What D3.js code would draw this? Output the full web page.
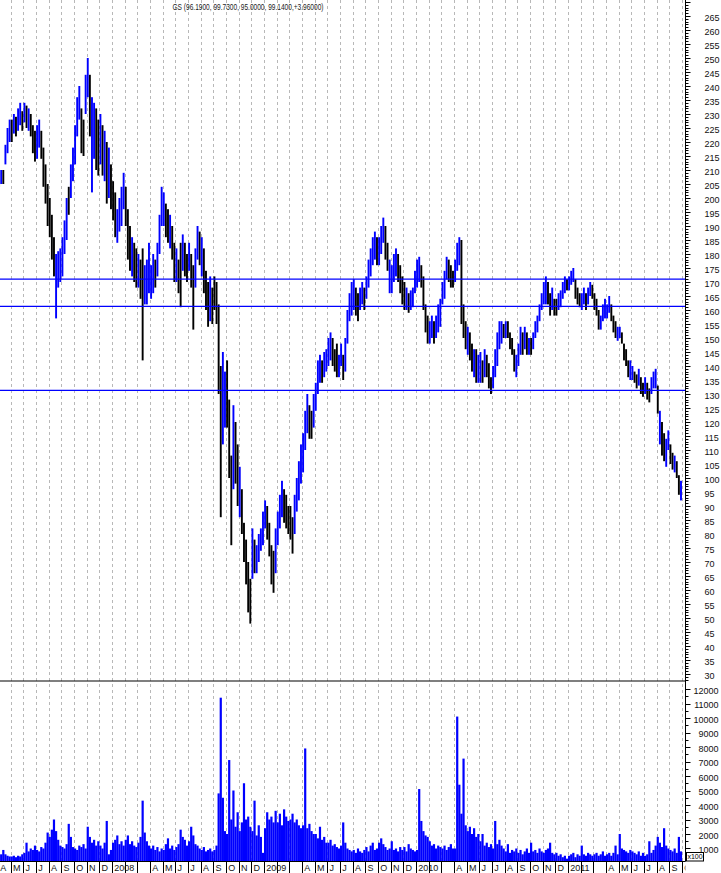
<!DOCTYPE html>
<html><head><meta charset="utf-8">
<script src="https://cdn.jsdelivr.net/npm/d3@7"></script>
<style>body{margin:0;background:#fff;} svg{display:block;font-family:"Liberation Sans",Arial,sans-serif;}</style>
</head><body><svg id="c" width="721" height="873"></svg>
<script>
const title = "GS (96.1900, 99.7300, 95.0000, 99.1400,+3.96000)";
// Month labels, Apr 2007 .. Oct 2011 (Feb & Mar are unlabeled)
const monthLabels = ["A","M","J","J","A","S","O","N","D",
 "2008","","","A","M","J","J","A","S","O","N","D",
 "2009","","","A","M","J","J","A","S","O","N","D",
 "2010","","","A","M","J","J","A","S","O","N","D",
 "2011","","","A","M","J","J","A","S","O"];
const barsPerMonth = 6;
const priceTicks = d3.range(30, 270, 5);
const volumeTicks = d3.range(1000, 13000, 1000);
const levels = [171, 161.3, 131.3];

// six bars per month (each ~3-4 trading days), Apr 2007 .. Sep 2011
const high = [
209,210,210,219,225,228, 228,230,229,232,234,231, 234,233,232,230,226,224, 226,228,224,218,212,205,
200,194,186,180,181,182, 186,192,200,204,212,218, 226,236,240,232,228,244, 250,244,236,234,232,228,
230,226,224,220,218,212, 206,202,196,200,204,209, 204,196,190,186,184,182, 180,178,182,176,178,184,
176,180,178,184,194,204, 202,198,196,194,190,184, 182,178,184,187,184,180, 184,180,176,182,190,188,
186,182,174,170,172,168, 172,170,162,140,145,138, 142,128,108,126,120,112, 104,96,84,78,70,64,
82,78,76,80,82,88, 92,90,84,76,74,82, 88,94,99,96,94,90, 90,86,94,100,106,112,
116,124,130,126,124,130, 134,142,144,142,145,146, 150,152,150,146,148,144, 148,144,150,160,166,170,
171,168,166,168,170,168, 172,178,182,186,188,186, 186,190,193,190,184,178, 176,180,182,180,176,172,
170,168,166,167,168,174, 178,179,176,172,162,158, 156,158,156,158,162,164, 170,174,179,178,176,174,
178,184,186,185,162,156, 154,152,148,146,146,144, 145,142,146,144,141,136, 140,146,152,156,156,155,
156,156,152,150,146,144, 148,154,152,154,152,150, 150,152,156,158,162,166, 170,172,170,166,168,164,
164,166,167,170,172,171, 172,174,175,171,168,166, 166,168,166,168,170,169, 166,164,160,158,162,164,
162,165,162,158,156,154, 154,152,148,146,142,142, 140,138,137,139,136,134, 136,134,132,136,138,139,
133,124,120,116,114,117, 112,109,108,106,101,99];
const low = [
204,205,205,212,216,220, 220,223,222,224,226,224, 227,225,224,222,216,213, 214,218,214,204,198,190,
186,178,172,157,168,170, 172,180,185,194,200,206, 212,222,228,216,215,230, 236,222,202,214,210,208,
212,208,206,198,200,196, 192,186,184,188,190,196, 190,178,174,172,170,168, 168,164,142,162,162,166,
164,166,168,172,180,190, 190,186,184,182,178,170, 170,166,161,174,172,170, 174,168,153,168,178,176,
172,166,160,154,156,155, 160,155,130,86,112,118, 118,100,76,96,98,90, 86,80,70,62,52,48,
64,66,66,70,74,76, 82,78,72,62,59,66, 76,82,86,84,82,80, 78,73,80,88,92,98,
102,110,116,114,114,118, 124,130,134,134,136,138, 140,142,140,138,136,136, 140,135,138,148,156,158,
160,158,156,160,162,160, 164,168,172,176,178,176, 176,180,184,178,174,166, 166,170,172,170,166,162,
160,160,159,160,161,166, 168,170,168,160,152,148, 148,150,148,150,152,154, 162,164,171,170,168,168,
170,174,176,155,150,146, 144,142,138,136,134,134, 134,134,136,136,132,130, 132,136,140,146,148,150,
150,150,146,144,138,136, 140,144,144,146,144,144, 144,146,150,152,156,160, 162,162,162,158,160,158,
158,160,161,164,166,167, 167,169,170,164,162,161, 160,162,160,162,165,164, 160,158,153,153,156,157,
157,159,156,152,150,149, 150,148,142,140,136,135, 135,134,132,133,130,129, 130,128,127,130,132,132,
123,112,108,106,104,110, 105,103,102,100,94,92];
const up = [
0,1,0,1,1,1, 0,1,0,1,1,0, 1,0,1,0,0,0, 1,1,0,0,0,0,
0,0,0,1,1,1, 1,1,1,0,1,1, 1,1,1,0,0,1, 1,0,1,1,0,0,
1,0,1,0,1,0, 0,0,1,1,1,1, 0,0,0,1,0,0, 1,0,0,1,1,1,
1,1,0,1,1,1, 1,0,0,1,0,0, 1,0,0,1,0,0, 1,0,0,1,1,0,
1,0,0,0,1,0, 0,0,0,0,1,1, 0,0,0,1,0,0, 1,0,0,0,0,0,
1,0,1,1,1,1, 1,0,0,0,0,1, 1,1,1,0,0,0, 0,0,1,1,1,1,
1,1,1,0,0,1, 1,1,1,0,1,1, 1,1,0,0,0,1, 1,0,1,1,1,1,
1,0,0,1,1,0, 1,1,1,1,1,0, 1,1,1,0,0,1, 1,1,1,0,0,0,
0,1,0,1,1,1, 1,1,0,0,0,0, 1,1,0,1,1,1, 1,1,1,0,0,0,
1,1,1,0,0,0, 1,0,0,1,0,1, 1,0,1,0,0,0, 1,1,1,1,1,0,
1,0,0,0,0,1, 1,1,0,1,0,1, 0,1,1,1,1,1, 1,1,0,0,1,0,
0,1,1,1,1,0, 1,1,1,0,0,0, 1,1,0,1,1,0, 0,0,0,1,1,1,
1,1,0,0,0,1, 1,0,0,0,0,1, 1,0,0,1,0,0, 1,0,0,1,1,1,
0,1,0,0,1,1, 0,0,1,0,0,1];
// volume (x100 shares)
const volume = [
500,600,900,600,500,450, 450,500,400,500,450,600, 700,1400,800,1000,900,1200, 900,800,1100,1000,1400,2100,
1800,2300,3000,2200,1600,1200, 1100,1000,1300,2700,1800,1100, 1000,900,1200,1100,1300,1000, 2500,1800,1400,1600,1200,1500,
1200,1000,1400,2900,600,900, 1400,1600,1900,1300,1500,1200, 1600,1900,1300,1500,1200,1100, 1400,1800,4300,2100,1500,1200,
1000,1200,900,1100,800,1000, 900,1300,1700,1000,1200,900, 1100,1300,2300,1800,1600,1200, 1500,2500,1900,1300,1200,1000,
900,1100,800,900,1000,800, 900,1200,4800,11400,4500,2200, 2000,7100,3000,5000,2500,3500, 2200,2800,5500,3000,3200,2500,
2200,4300,1900,2600,1800,700, 2400,3500,3000,3200,2800,3600, 2800,3400,2600,3700,3200,2900, 3000,3400,2800,3000,2600,2400,
2600,7900,2400,2700,2200,2000, 2000,1700,2500,1600,1800,1400, 1400,1600,1200,1300,1100,1000, 1200,2800,1400,1000,900,800,
900,700,1000,800,700,900, 1100,800,1200,1400,900,1000, 1400,1700,1300,1100,900,1000, 1500,900,1000,800,1100,900,
1100,800,1300,1000,900,800, 900,5100,2900,2200,1900,1800, 1500,1200,1300,1000,1200,1100, 1000,1200,900,1100,1300,1000,
1000,10100,5400,3400,7200,2600, 2200,2500,2000,2400,1800,2000, 1500,2000,1200,1400,1100,1300, 1000,2900,1300,1600,1200,1000,
800,1300,700,900,800,1000, 700,900,600,800,1000,700, 1400,800,900,700,1000,800, 700,900,1000,1400,700,600,
700,500,600,400,500,300, 500,600,700,400,600,500, 1200,600,500,700,600,500, 600,700,500,600,800,500,
600,700,500,700,1200,600, 2000,1000,900,800,700,900, 800,700,600,800,500,700, 500,600,1500,700,900,1200,
1800,1400,1100,2400,1200,1000, 900,800,1000,700,1800,800];

const svg = d3.select("#c");
const axisX = 685.5, priceBottom = 681, volBottom = 861.5;
const nMonths = 54;
const xM = d3.scaleLinear().domain([0, nMonths]).range([-1.97, 682.05]);
const xBar = i => xM(Math.floor(i / barsPerMonth) + ((i % barsPerMonth) + 0.5) / barsPerMonth);
const yP = d3.scaleLinear().domain([30, 265]).range([674, 16]);
const yV = d3.scaleLinear().domain([0, 12000]).range([863, 689]);

svg.append("rect").attr("width", 721).attr("height", 873).attr("fill", "#fff");
const defs = svg.append("defs");
defs.append("clipPath").attr("id", "cp").append("rect").attr("x", 0).attr("y", 0).attr("width", axisX).attr("height", priceBottom);
defs.append("clipPath").attr("id", "cv").append("rect").attr("x", 0).attr("y", priceBottom).attr("width", axisX).attr("height", volBottom - priceBottom);
defs.append("clipPath").attr("id", "cl").append("rect").attr("x", 0).attr("y", volBottom).attr("width", axisX).attr("height", 20);

// dashed month gridlines
svg.append("g").selectAll("line").data(d3.range(1, nMonths + 1)).join("line")
  .attr("x1", d => Math.round(xM(d)) + 0.5).attr("x2", d => Math.round(xM(d)) + 0.5)
  .attr("y1", 0).attr("y2", volBottom)
  .attr("stroke", "#b8b8b8").attr("stroke-width", 1).attr("stroke-dasharray", "3,3");

// title
svg.append("text").attr("x", 248).attr("y", 7).attr("text-anchor", "middle")
  .attr("dominant-baseline", "middle").attr("font-size", 9.5).attr("fill", "#222")
  .attr("textLength", 151).attr("lengthAdjust", "spacingAndGlyphs").text(title);

// price bars
svg.append("g").attr("clip-path", "url(#cp)").selectAll("rect").data(high).join("rect")
  .attr("x", (d, i) => xBar(i) - 0.95).attr("width", 1.9)
  .attr("y", d => yP(d)).attr("height", (d, i) => Math.max(1, yP(low[i]) - yP(d)))
  .attr("fill", (d, i) => up[i] ? "#0000ff" : "#000000");

// horizontal level lines
svg.append("g").selectAll("line").data(levels).join("line")
  .attr("x1", 0).attr("x2", axisX).attr("y1", d => yP(d)).attr("y2", d => yP(d))
  .attr("stroke", "#0000ff").attr("stroke-width", 1.3);

// volume bars
svg.append("g").attr("clip-path", "url(#cv)").selectAll("rect").data(volume).join("rect")
  .attr("x", (d, i) => xBar(i) - 1.1).attr("width", 2.2)
  .attr("y", d => yV(d)).attr("height", d => volBottom - yV(d))
  .attr("fill", "#0000ff");

// panel separators / axes lines
svg.append("line").attr("x1", 0).attr("x2", axisX).attr("y1", priceBottom).attr("y2", priceBottom).attr("stroke", "#000").attr("stroke-width", 1.2);
svg.append("line").attr("x1", 0).attr("x2", axisX).attr("y1", volBottom).attr("y2", volBottom).attr("stroke", "#000");
svg.append("line").attr("x1", axisX).attr("x2", axisX).attr("y1", 0).attr("y2", volBottom).attr("stroke", "#000");

// price axis: minor ticks every 1, majors every 5
svg.append("g").selectAll("line").data(d3.range(28, 271)).join("line")
  .attr("x1", axisX).attr("x2", d => axisX + (d % 5 === 0 ? 5 : 3))
  .attr("y1", d => Math.round(yP(d)) + 0.5).attr("y2", d => Math.round(yP(d)) + 0.5)
  .attr("stroke", "#000");
const pAxis = d3.axisRight(yP).tickValues(priceTicks).tickSize(0).tickPadding(19).tickFormat(d3.format("d"));
const pg = svg.append("g").attr("transform", `translate(${axisX},0)`).call(pAxis);
pg.select(".domain").remove();
pg.selectAll("text").attr("font-size", 9).attr("font-family", "Liberation Sans, Arial").attr("fill", "#111").attr("dy", "0.45em");

// volume axis
svg.append("g").selectAll("line").data(d3.range(500, 12500, 500)).join("line")
  .attr("x1", axisX).attr("x2", d => axisX + (d % 1000 === 0 ? 5 : 3))
  .attr("y1", d => Math.round(yV(d)) + 0.5).attr("y2", d => Math.round(yV(d)) + 0.5)
  .attr("stroke", "#000");
const vAxis = d3.axisRight(yV).tickValues(volumeTicks).tickSize(0).tickPadding(33).tickFormat(d3.format("d"));
const vg = svg.append("g").attr("transform", `translate(${axisX},0)`).call(vAxis);
vg.select(".domain").remove();
vg.selectAll("text").attr("font-size", 9).attr("font-family", "Liberation Sans, Arial").attr("fill", "#111")
  .attr("text-anchor", "end").attr("dy", "0.45em");
svg.append("rect").attr("x", 686.5).attr("y", 852.5).attr("width", 17).attr("height", 8.5).attr("fill", "#fff").attr("stroke", "#000");
svg.append("text").attr("x", 695).attr("y", 857.2).attr("text-anchor", "middle").attr("dominant-baseline", "middle")
  .attr("font-size", 7).attr("fill", "#000").text("x100");

// time axis: separators and labels
const tg = svg.append("g").attr("clip-path", "url(#cl)");
tg.selectAll("line").data(d3.range(0, nMonths + 1)).join("line")
  .attr("x1", d => Math.round(xM(d)) + 0.5).attr("x2", d => Math.round(xM(d)) + 0.5)
  .attr("y1", volBottom).attr("y2", 873).attr("stroke", "#000");
tg.selectAll("text").data(monthLabels).join("text")
  .attr("x", (d, i) => xM(i) + 2.2).attr("y", 868.5).attr("dominant-baseline", "middle")
  .attr("font-size", 9).attr("fill", "#111").text(d => d);
</script></body></html>
